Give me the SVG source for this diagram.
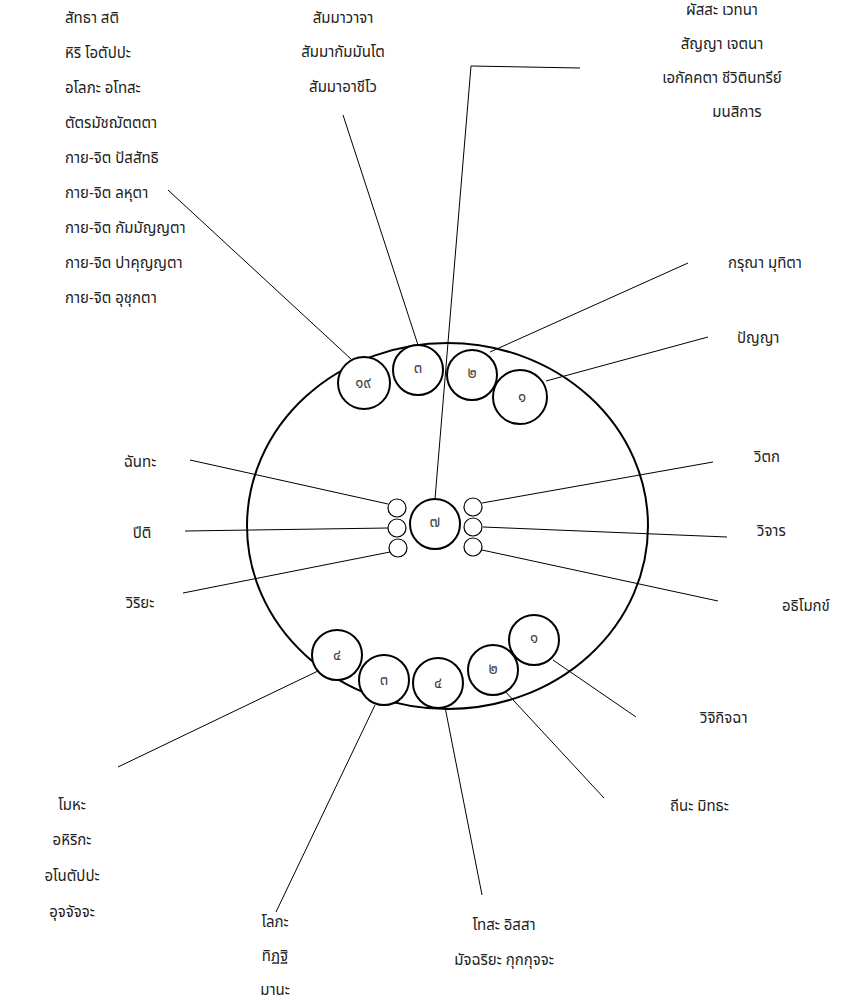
<svg xmlns="http://www.w3.org/2000/svg" width="845" height="1003" viewBox="0 0 845 1003">
<style>
.lbl{font-family:"Noto Sans Thai","Noto Sans","DejaVu Sans",sans-serif;font-size:15px;fill:#222}
.m{text-anchor:middle}
.num{font-family:"Noto Sans Thai","Noto Sans","DejaVu Sans",sans-serif;font-size:15px;fill:#444;text-anchor:middle}
.c{fill:#fff;stroke:#000;stroke-width:2}
.s{fill:#fff;stroke:#000;stroke-width:1.2}
.ln{stroke:#000;stroke-width:1;fill:none}
</style>
<rect width="845" height="1003" fill="#fff"/>
<g id="outer"><ellipse cx="447.5" cy="526" rx="200.5" ry="183" fill="none" stroke="#000" stroke-width="2"/></g>
<g id="connectors" class="ln">
<line x1="168" y1="190" x2="351" y2="359"/>
<line x1="343" y1="115" x2="418" y2="345"/>
<polyline points="435,499 471,66 580,68"/>
<line x1="490" y1="352" x2="688" y2="263"/>
<line x1="546" y1="381" x2="708" y2="337"/>
<line x1="482" y1="503" x2="713" y2="462"/>
<line x1="483" y1="527" x2="727" y2="537"/>
<line x1="482" y1="550" x2="718" y2="601"/>
<line x1="190" y1="460" x2="388" y2="504"/>
<line x1="185" y1="531" x2="388" y2="528"/>
<line x1="183" y1="593" x2="390" y2="552"/>
<line x1="118" y1="767" x2="318" y2="671"/>
<line x1="375" y1="705" x2="276" y2="912"/>
<line x1="445" y1="707" x2="482" y2="895"/>
<line x1="502" y1="688" x2="604" y2="798"/>
<line x1="553" y1="660" x2="636" y2="717"/>
</g>
<g id="n19"><circle class="c" cx="364" cy="383" r="26"/><text class="num" x="363" y="388">๑๙</text></g>
<g id="n3top"><circle class="c" cx="418" cy="370" r="25"/><text class="num" x="418" y="373">๓</text></g>
<g id="n2top"><circle class="c" cx="472" cy="375" r="25"/><text class="num" x="472" y="378">๒</text></g>
<g id="n1top"><circle class="c" cx="520" cy="397" r="27"/><text class="num" x="522" y="402">๑</text></g>
<g id="n7"><circle class="c" cx="435" cy="524" r="25"/><text class="num" x="435" y="527">๗</text></g>
<g id="l1"><circle class="s" cx="397" cy="508" r="9"/></g>
<g id="l2"><circle class="s" cx="397" cy="528" r="9"/></g>
<g id="l3"><circle class="s" cx="398" cy="548" r="9"/></g>
<g id="r1"><circle class="s" cx="473" cy="507" r="9"/></g>
<g id="r2"><circle class="s" cx="473" cy="527" r="9"/></g>
<g id="r3"><circle class="s" cx="473" cy="547" r="9"/></g>
<g id="b4a"><circle class="c" cx="337" cy="655" r="25"/><text class="num" x="337" y="660">๔</text></g>
<g id="b3"><circle class="c" cx="384" cy="680" r="25"/><text class="num" x="384" y="685">๓</text></g>
<g id="b4b"><circle class="c" cx="438" cy="683" r="25"/><text class="num" x="438" y="688">๔</text></g>
<g id="b2"><circle class="c" cx="493" cy="670" r="25"/><text class="num" x="493" y="674">๒</text></g>
<g id="b1"><circle class="c" cx="534" cy="640" r="25"/><text class="num" x="534" y="643">๑</text></g>
<g id="t-topleft" class="lbl">
<text x="65" y="23">สัทธา สติ</text>
<text x="65" y="58">หิริ โอตัปปะ</text>
<text x="65" y="93">อโลภะ อโทสะ</text>
<text x="65" y="128">ตัตรมัชฌัตตตา</text>
<text x="65" y="163">กาย-จิต ปัสสัทธิ</text>
<text x="65" y="198">กาย-จิต ลหุตา</text>
<text x="65" y="233">กาย-จิต กัมมัญญตา</text>
<text x="65" y="268">กาย-จิต ปาคุญญตา</text>
<text x="65" y="303">กาย-จิต อุชุกตา</text>
</g>
<g id="t-topcenter" class="lbl m">
<text x="343" y="23">สัมมาวาจา</text>
<text x="343" y="57">สัมมากัมมันโต</text>
<text x="343" y="92">สัมมาอาชีโว</text>
</g>
<g id="t-topright" class="lbl m">
<text x="722" y="15">ผัสสะ เวทนา</text>
<text x="722" y="49">สัญญา เจตนา</text>
<text x="722" y="83">เอกัคคตา ชีวิตินทรีย์</text>
<text x="737" y="117">มนสิการ</text>
</g>
<g id="t-right" class="lbl">
<text x="728" y="268">กรุณา มุทิตา</text>
<text x="737" y="343">ปัญญา</text>
<text x="754" y="462">วิตก</text>
<text x="757" y="536">วิจาร</text>
<text x="782" y="611">อธิโมกข์</text>
<text x="700" y="723">วิจิกิจฉา</text>
<text x="670" y="811">ถีนะ มิทธะ</text>
</g>
<g id="t-left" class="lbl m">
<text x="140" y="467">ฉันทะ</text>
<text x="142" y="538">ปีติ</text>
<text x="140" y="608">วิริยะ</text>
</g>
<g id="t-bottomleft" class="lbl m">
<text x="72" y="810">โมหะ</text>
<text x="72" y="845">อหิริกะ</text>
<text x="72" y="881">อโนตัปปะ</text>
<text x="72" y="917">อุจจัจจะ</text>
</g>
<g id="t-bottom" class="lbl m">
<text x="275" y="927">โลภะ</text>
<text x="275" y="961">ทิฏฐิ</text>
<text x="275" y="995">มานะ</text>
<text x="504" y="930">โทสะ อิสสา</text>
<text x="504" y="965">มัจฉริยะ กุกกุจจะ</text>
</g>
</svg>
